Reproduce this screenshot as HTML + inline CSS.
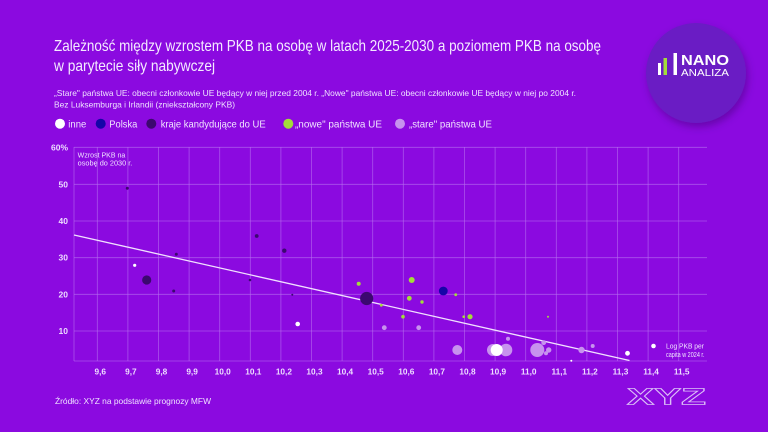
<!DOCTYPE html>
<html><head><meta charset="utf-8">
<style>
html,body{margin:0;padding:0;background:#8b0ae0;}
svg{display:block;}
text{font-family:"Liberation Sans",sans-serif;}
</style></head>
<body>
<svg width="768" height="432" viewBox="0 0 768 432" xmlns="http://www.w3.org/2000/svg">
<defs>
<filter id="sh" x="-30%" y="-30%" width="160%" height="160%">
<feDropShadow dx="2" dy="4" stdDeviation="4" flood-color="#3a0070" flood-opacity="0.45"/>
</filter>
</defs>
<rect width="768" height="432" fill="#8b0ae0"/>

<!-- Title -->
<text x="54" y="51" font-size="16" fill="#f4ebff" textLength="547" lengthAdjust="spacingAndGlyphs">Zależność między wzrostem PKB na osobę w latach 2025-2030 a poziomem PKB na osobę</text>
<text x="54" y="71" font-size="16" fill="#f4ebff" textLength="161" lengthAdjust="spacingAndGlyphs">w parytecie siły nabywczej</text>
<text x="54" y="96" font-size="8.3" fill="#efe2ff" textLength="522" lengthAdjust="spacingAndGlyphs">„Stare" państwa UE: obecni członkowie UE będący w niej przed 2004 r. „Nowe" państwa UE: obecni członkowie UE będący w niej po 2004 r.</text>
<text x="54" y="107.5" font-size="8.3" fill="#efe2ff" textLength="181" lengthAdjust="spacingAndGlyphs">Bez Luksemburga i Irlandii (zniekształcony PKB)</text>

<!-- Logo circle -->
<circle cx="696" cy="73" r="50" fill="#6a1cc4" filter="url(#sh)"/>
<rect x="658" y="63" width="3" height="12" fill="#ffffff"/>
<rect x="663.5" y="58" width="3.5" height="17" fill="#a3dc3a"/>
<rect x="673.5" y="53" width="3.5" height="22" fill="#ffffff"/>
<text x="681" y="65" font-size="15" font-weight="bold" fill="#ffffff" textLength="48" lengthAdjust="spacingAndGlyphs">NANO</text>
<text x="681" y="76" font-size="10" fill="#ffffff" textLength="48" lengthAdjust="spacingAndGlyphs">ANALIZA</text>

<!-- Legend -->
<g font-size="10.5" fill="#f1e4ff">
<circle cx="60" cy="123.7" r="5" fill="#ffffff"/>
<text x="68.3" y="127.5" textLength="18" lengthAdjust="spacingAndGlyphs">inne</text>
<circle cx="100.7" cy="123.7" r="5" fill="#1505a8"/>
<text x="109.3" y="127.5" textLength="28" lengthAdjust="spacingAndGlyphs">Polska</text>
<circle cx="151.3" cy="123.7" r="5" fill="#3c0870"/>
<text x="160.7" y="127.5" textLength="105" lengthAdjust="spacingAndGlyphs">kraje  kandydujące do UE</text>
<circle cx="288.3" cy="123.7" r="5" fill="#a3dc3a"/>
<text x="295" y="127.5" textLength="87" lengthAdjust="spacingAndGlyphs">„nowe"  państwa UE</text>
<circle cx="400" cy="123.7" r="5" fill="#c792ee"/>
<text x="409" y="127.5" textLength="83" lengthAdjust="spacingAndGlyphs">„stare"  państwa UE</text>
</g>

<!-- Grid -->
<g stroke="#b870f0" stroke-opacity="0.7" stroke-width="0.8">
<line x1="74" y1="147.3" x2="707" y2="147.3"/>
<line x1="74" y1="184.3" x2="707" y2="184.3"/>
<line x1="74" y1="221" x2="707" y2="221"/>
<line x1="74" y1="257.7" x2="707" y2="257.7"/>
<line x1="74" y1="294.3" x2="707" y2="294.3"/>
<line x1="74" y1="331" x2="707" y2="331"/>
<line x1="74" y1="361" x2="707" y2="361"/>
<line x1="74" y1="147" x2="74" y2="361"/>
<line x1="97.3" y1="147" x2="97.3" y2="361"/>
<line x1="127.9" y1="147" x2="127.9" y2="361"/>
<line x1="158.5" y1="147" x2="158.5" y2="361"/>
<line x1="189.1" y1="147" x2="189.1" y2="361"/>
<line x1="219.7" y1="147" x2="219.7" y2="361"/>
<line x1="250.3" y1="147" x2="250.3" y2="361"/>
<line x1="280.9" y1="147" x2="280.9" y2="361"/>
<line x1="311.5" y1="147" x2="311.5" y2="361"/>
<line x1="342.1" y1="147" x2="342.1" y2="361"/>
<line x1="372.7" y1="147" x2="372.7" y2="361"/>
<line x1="403.3" y1="147" x2="403.3" y2="361"/>
<line x1="433.9" y1="147" x2="433.9" y2="361"/>
<line x1="464.5" y1="147" x2="464.5" y2="361"/>
<line x1="495.1" y1="147" x2="495.1" y2="361"/>
<line x1="525.7" y1="147" x2="525.7" y2="361"/>
<line x1="556.3" y1="147" x2="556.3" y2="361"/>
<line x1="586.9" y1="147" x2="586.9" y2="361"/>
<line x1="617.5" y1="147" x2="617.5" y2="361"/>
<line x1="648.1" y1="147" x2="648.1" y2="361"/>
<line x1="678.7" y1="147" x2="678.7" y2="361"/>
</g>

<!-- Y labels -->
<g font-size="8.5" fill="#eddcff" text-anchor="end" font-weight="bold">
<text x="68" y="150.3">60%</text>
<text x="68" y="187.3">50</text>
<text x="68" y="224">40</text>
<text x="68" y="260.7">30</text>
<text x="68" y="297.3">20</text>
<text x="68" y="334">10</text>
</g>
<!-- X labels -->
<g font-size="8.3" fill="#eddcff" text-anchor="middle" font-weight="bold">
<text x="100.3" y="374.7">9,6</text>
<text x="130.9" y="374.7">9,7</text>
<text x="161.5" y="374.7">9,8</text>
<text x="192.1" y="374.7">9,9</text>
<text x="222.7" y="374.7">10,0</text>
<text x="253.3" y="374.7">10,1</text>
<text x="283.9" y="374.7">10,2</text>
<text x="314.5" y="374.7">10,3</text>
<text x="345.1" y="374.7">10,4</text>
<text x="375.7" y="374.7">10,5</text>
<text x="406.3" y="374.7">10,6</text>
<text x="436.9" y="374.7">10,7</text>
<text x="467.5" y="374.7">10,8</text>
<text x="498.1" y="374.7">10,9</text>
<text x="528.7" y="374.7">11,0</text>
<text x="559.3" y="374.7">11,1</text>
<text x="589.9" y="374.7">11,2</text>
<text x="620.5" y="374.7">11,3</text>
<text x="651.1" y="374.7">11,4</text>
<text x="681.7" y="374.7">11,5</text>
</g>

<!-- axis title -->
<text x="77.7" y="157.5" font-size="7" fill="#f1e4ff" textLength="47.6" lengthAdjust="spacingAndGlyphs">Wzrost PKB na</text>
<text x="77.7" y="165.3" font-size="7" fill="#f1e4ff" textLength="54.6" lengthAdjust="spacingAndGlyphs">osobę do 2030 r.</text>

<!-- trend line -->
<line x1="74" y1="235" x2="629.5" y2="360.5" stroke="#f1e0ff" stroke-width="1.3"/>

<!-- dark (candidates) -->
<g fill="#3c0870">
<circle cx="127.3" cy="188.3" r="1.5"/>
<circle cx="176.3" cy="254.3" r="1.5"/>
<circle cx="146.7" cy="280" r="4.6"/>
<circle cx="173.7" cy="291" r="1.5"/>
<circle cx="256.7" cy="236" r="1.9"/>
<circle cx="284.3" cy="250.7" r="2.2"/>
<circle cx="250" cy="280" r="1.3"/>
<circle cx="292.3" cy="294.7" r="1"/>
<circle cx="366.7" cy="298.5" r="6.6"/>
</g>
<!-- light purple (old) -->
<g fill="#c792ee">
<circle cx="384.3" cy="327.7" r="2.4"/>
<circle cx="418.7" cy="327.7" r="2.4"/>
<circle cx="457.3" cy="350" r="5"/>
<circle cx="493" cy="350" r="6"/>
<circle cx="506" cy="350" r="6.3"/>
<circle cx="508" cy="338.7" r="2"/>
<circle cx="537.3" cy="350" r="7"/>
<circle cx="543.7" cy="342.7" r="2.4"/>
<circle cx="548.7" cy="350" r="2.7"/>
<circle cx="546" cy="353.3" r="2"/>
<circle cx="581.5" cy="350" r="3.2"/>
<circle cx="592.7" cy="346" r="2"/>
</g>
<!-- green (new) -->
<g fill="#a3dc3a">
<circle cx="358.7" cy="283.7" r="2"/>
<circle cx="411.7" cy="280" r="3"/>
<circle cx="381.3" cy="305.3" r="1.4"/>
<circle cx="409.3" cy="298.3" r="2.4"/>
<circle cx="422" cy="302" r="1.7"/>
<circle cx="455.7" cy="294.7" r="1.4"/>
<circle cx="403" cy="316.7" r="1.8"/>
<circle cx="463.7" cy="316.7" r="1.3"/>
<circle cx="470" cy="316.7" r="2.6"/>
<circle cx="548" cy="316.7" r="1"/>
</g>
<!-- Poland -->
<circle cx="443.3" cy="291" r="4.4" fill="#1505a8"/>
<!-- white (others) -->
<g fill="#ffffff">
<circle cx="134.7" cy="265.3" r="1.6"/>
<circle cx="297.7" cy="324" r="2.3"/>
<circle cx="496.7" cy="350" r="6"/>
<circle cx="627.5" cy="353.3" r="2.4"/>
<circle cx="571.3" cy="360.8" r="1"/>
</g>

<!-- size legend -->
<circle cx="653.5" cy="346" r="2.3" fill="#ffffff"/>
<text x="666" y="348.3" font-size="7.3" fill="#f1e4ff" textLength="38" lengthAdjust="spacingAndGlyphs">Log PKB per</text>
<text x="666" y="356.8" font-size="7.3" fill="#f1e4ff" textLength="38.5" lengthAdjust="spacingAndGlyphs">capita w 2024 r.</text>

<!-- source -->
<text x="55" y="404" font-size="8.3" fill="#efe2ff" textLength="156" lengthAdjust="spacingAndGlyphs">Źródło: XYZ na podstawie prognozy MFW</text>

<!-- XYZ logo -->
<text x="627" y="404.5" font-size="23" font-weight="bold" fill="none" stroke="#dcc0f7" stroke-width="0.8" textLength="79" lengthAdjust="spacingAndGlyphs">XYZ</text>
</svg>
</body></html>
